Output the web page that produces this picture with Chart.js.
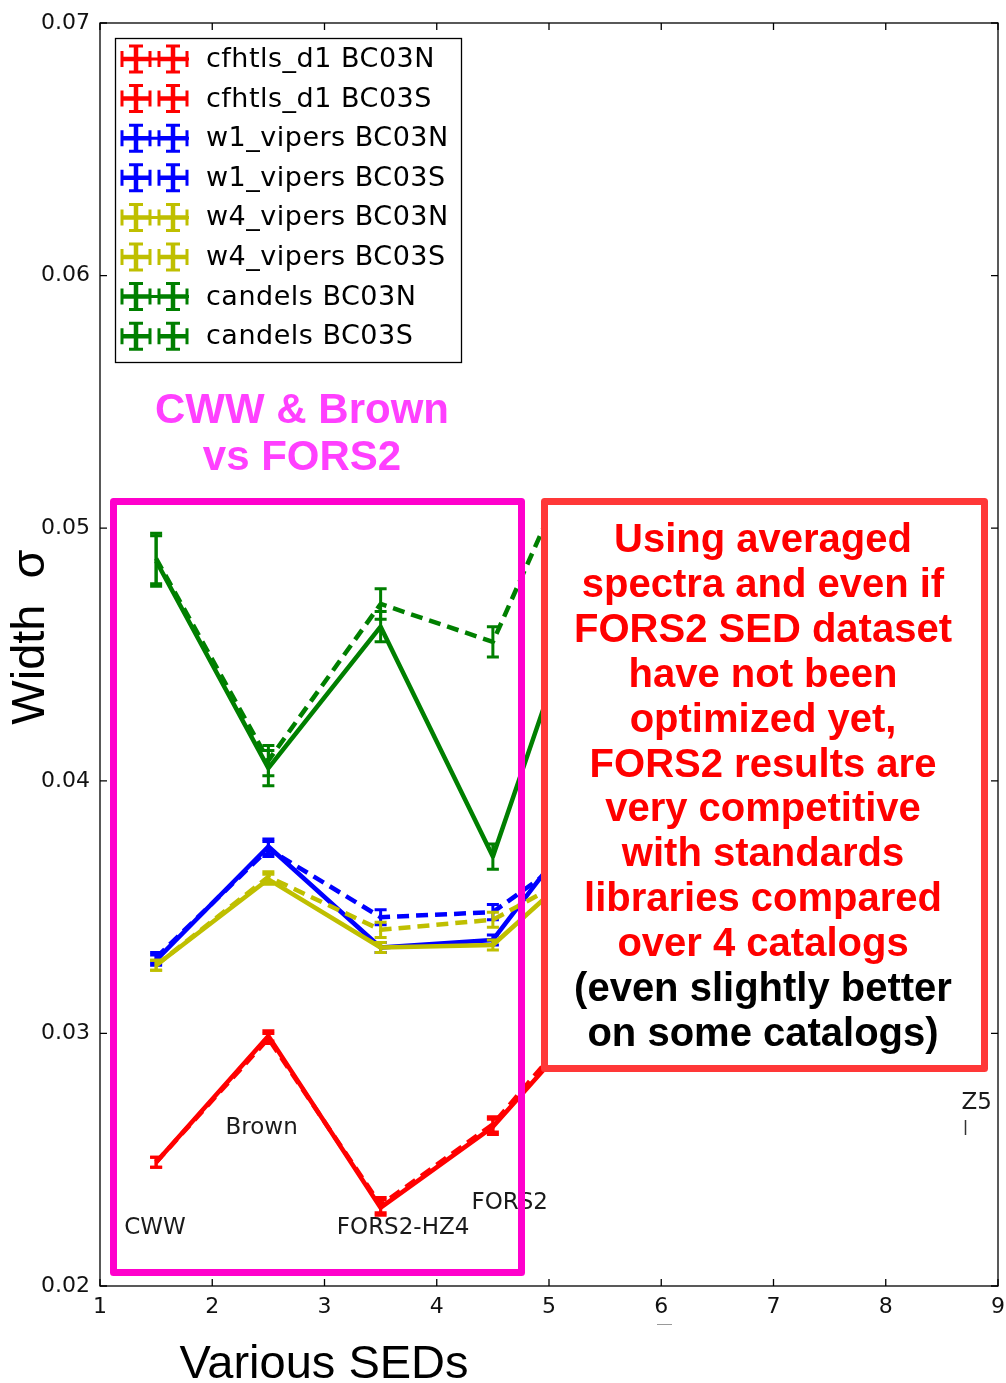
<!DOCTYPE html>
<html>
<head>
<meta charset="utf-8">
<script src="https://cdn.jsdelivr.net/npm/chart.js@4.4.1/dist/chart.umd.min.js"></script>
<style>
  html, body { margin: 0; padding: 0; background: #fff; }
  canvas { display: block; }
</style>
</head>
<body>
<canvas id="c" width="1006" height="1383"></canvas>
<script>
// SED index of each template family (x axis)
const sedPositions = [1.5, 2.5, 3.5, 4.5, 5.0];
const sedNames = ['CWW', 'Brown', 'FORS2-HZ4', 'FORS2', 'Z5'];
const xTickValues = [1, 2, 3, 4, 5, 6, 7, 8, 9];
const yTickValues = [0.02, 0.03, 0.04, 0.05, 0.06, 0.07];

// Width sigma per catalog / BC03 variant
const seriesLabels = [
  'cfhtls_d1 BC03N', 'cfhtls_d1 BC03S',
  'w1_vipers BC03N', 'w1_vipers BC03S',
  'w4_vipers BC03N', 'w4_vipers BC03S',
  'candels BC03N', 'candels BC03S'
];
const cfhtlsN  = [0.0249, 0.0299, 0.0231, 0.0263, 0.0288];
const cfhtlsS  = [0.0249, 0.0298, 0.0232, 0.0264, 0.0290];
const w1N      = [0.0329, 0.0374, 0.0334, 0.0337, 0.0366];
const w1S      = [0.0330, 0.0373, 0.0346, 0.0348, 0.0364];
const w4N      = [0.0327, 0.0361, 0.0334, 0.0335, 0.0355];
const w4S      = [0.0327, 0.0362, 0.0341, 0.0345, 0.0357];
const candelsN = [0.0487, 0.0405, 0.0461, 0.0370, 0.0435];
const candelsS = [0.0488, 0.0408, 0.0470, 0.0455, 0.0505];

// Error on sigma
const cfhtlsNErr  = [0.0002, 0.0002, 0.0003, 0.0003, 0.0002];
const cfhtlsSErr  = [0.0002, 0.0002, 0.0003, 0.0003, 0.0002];
const w1NErr      = [0.0002, 0.0003, 0.0002, 0.0002, 0.0002];
const w1SErr      = [0.0002, 0.0003, 0.0003, 0.0003, 0.0002];
const w4NErr      = [0.0002, 0.0002, 0.0002, 0.0002, 0.0002];
const w4SErr      = [0.0002, 0.0002, 0.0003, 0.0003, 0.0002];
const candelsNErr = [0.0010, 0.0007, 0.0006, 0.0005, 0.0005];
const candelsSErr = [0.0010, 0.0006, 0.0006, 0.0006, 0.0002];

const seriesValues = [cfhtlsN, cfhtlsS, w1N, w1S, w4N, w4S, candelsN, candelsS];
const seriesErrors = [cfhtlsNErr, cfhtlsSErr, w1NErr, w1SErr, w4NErr, w4SErr, candelsNErr, candelsSErr];

// Text panels
const leftNote = ['CWW & Brown', 'vs FORS2'];
const rightNoteRed = ['Using averaged', 'spectra and even if', 'FORS2 SED dataset',
  'have not been', 'optimized yet,', 'FORS2 results are', 'very competitive',
  'with standards', 'libraries compared', 'over 4 catalogs'];
const rightNoteBlack = ['(even slightly better', 'on some catalogs)'];

// ---- styling ----
const RED = '#ff0000', BLUE = '#0000ff', YELLOW = '#bfbf00', GREEN = '#007f00';
const seriesColors = [RED, RED, BLUE, BLUE, YELLOW, YELLOW, GREEN, GREEN];
const DASH = [12, 7];

// label anchor points (data units) for the SED family names
const sedLabelAnchors = [
  { x: 1.49, y: 0.02230 },
  { x: 2.44, y: 0.02625 },
  { x: 3.70, y: 0.02230 },
  { x: 4.65, y: 0.02329 },
  { x: 8.81, y: 0.02724 }
];

const datasets = seriesLabels.map((label, i) => ({
  label,
  data: sedPositions.map((x, k) => ({ x, y: seriesValues[i][k] })),
  errors: seriesErrors[i],
  borderColor: seriesColors[i],
  backgroundColor: seriesColors[i],
  borderWidth: 4.5,
  borderDash: i % 2 === 1 ? DASH : [],
  borderJoinStyle: 'round',
  pointRadius: 0,
  fill: false,
  tension: 0,
  order: seriesLabels.length - i
}));

const figurePlugin = {
  id: 'figure',
  beforeDraw(chart) {
    const ctx = chart.ctx;
    ctx.save();
    ctx.fillStyle = '#fff';
    ctx.fillRect(0, 0, chart.width, chart.height);
    ctx.restore();
  },
  afterDatasetDraw(chart, args) {
    // vertical error bars with caps
    const ds = chart.data.datasets[args.index];
    const ys = chart.scales.y;
    const ctx = chart.ctx;
    const a = chart.chartArea;
    ctx.save();
    ctx.beginPath();
    ctx.rect(a.left, a.top, a.right - a.left, a.bottom - a.top);
    ctx.clip();
    ctx.strokeStyle = ds.borderColor;
    ctx.lineWidth = 3;
    ctx.setLineDash([]);
    args.meta.data.forEach((pt, k) => {
      const v = ds.data[k].y, e = ds.errors[k];
      const y1 = ys.getPixelForValue(v - e), y2 = ys.getPixelForValue(v + e);
      ctx.beginPath();
      ctx.moveTo(pt.x, y1); ctx.lineTo(pt.x, y2);
      ctx.moveTo(pt.x - 6, y1); ctx.lineTo(pt.x + 6, y1);
      ctx.moveTo(pt.x - 6, y2); ctx.lineTo(pt.x + 6, y2);
      ctx.stroke();
    });
    ctx.restore();
  },
  afterDraw(chart) {
    const ctx = chart.ctx;
    const { left, right, top, bottom } = chart.chartArea;
    const xs = chart.scales.x, ys = chart.scales.y;
    ctx.save();

    // frame and inward ticks
    ctx.strokeStyle = '#000';
    ctx.lineWidth = 1.3;
    ctx.strokeRect(left, top, right - left, bottom - top);
    ctx.beginPath();
    yTickValues.forEach(v => {
      const y = ys.getPixelForValue(v);
      ctx.moveTo(left, y); ctx.lineTo(left + 7, y);
      ctx.moveTo(right, y); ctx.lineTo(right - 7, y);
    });
    xTickValues.forEach(v => {
      const x = xs.getPixelForValue(v);
      ctx.moveTo(x, bottom); ctx.lineTo(x, bottom - 7);
      ctx.moveTo(x, top); ctx.lineTo(x, top + 7);
    });
    ctx.stroke();

    // SED family names
    ctx.fillStyle = '#1a1a1a';
    ctx.font = '23px "DejaVu Sans"';
    ctx.textAlign = 'center';
    ctx.textBaseline = 'middle';
    sedNames.forEach((name, i) => {
      const p = sedLabelAnchors[i];
      ctx.fillText(name, xs.getPixelForValue(p.x), ys.getPixelForValue(p.y));
    });
    // small leftover marks near the right edge and under tick 6
    ctx.strokeStyle = '#333';
    ctx.lineWidth = 1.5;
    ctx.beginPath();
    ctx.moveTo(965.5, 1120); ctx.lineTo(965.5, 1135);
    ctx.stroke();
    ctx.strokeStyle = '#999';
    ctx.lineWidth = 1;
    ctx.beginPath();
    ctx.moveTo(657, 1324.5); ctx.lineTo(672, 1324.5);
    ctx.stroke();

    // axis titles
    ctx.fillStyle = '#000';
    ctx.font = '47px "Liberation Sans"';
    ctx.textAlign = 'center';
    ctx.textBaseline = 'alphabetic';
    ctx.fillText('Various SEDs', 324, 1378);
    ctx.save();
    ctx.translate(44, 637);
    ctx.rotate(-Math.PI / 2);
    ctx.fillText('Width  σ', 0, 0);
    ctx.restore();

    // legend
    const lgX = 115.5, lgY = 38.5, lgW = 346, lgH = 324;
    ctx.fillStyle = '#fff';
    ctx.fillRect(lgX, lgY, lgW, lgH);
    ctx.strokeStyle = '#000';
    ctx.lineWidth = 1.3;
    ctx.strokeRect(lgX, lgY, lgW, lgH);
    chart.data.datasets.forEach((ds, i) => {
      const cy = 59 + i * 39.6;
      ctx.strokeStyle = ds.borderColor;
      // connecting line
      ctx.lineWidth = 3;
      ctx.setLineDash(i % 2 === 1 ? [28, 9] : []);
      ctx.beginPath();
      ctx.moveTo(122, cy); ctx.lineTo(189, cy);
      ctx.stroke();
      ctx.setLineDash([]);
      [136, 173].forEach(cx => {
        ctx.lineWidth = 4.5;
        ctx.beginPath();
        ctx.moveTo(cx, cy - 13); ctx.lineTo(cx, cy + 13);
        ctx.moveTo(cx - 14, cy); ctx.lineTo(cx + 14, cy);
        ctx.stroke();
        ctx.lineWidth = 3;
        ctx.beginPath();
        ctx.moveTo(cx - 7, cy - 13); ctx.lineTo(cx + 7, cy - 13);
        ctx.moveTo(cx - 7, cy + 13); ctx.lineTo(cx + 7, cy + 13);
        ctx.moveTo(cx - 14, cy - 8); ctx.lineTo(cx - 14, cy + 8);
        ctx.moveTo(cx + 14, cy - 8); ctx.lineTo(cx + 14, cy + 8);
        ctx.stroke();
      });
      ctx.fillStyle = '#000';
      ctx.font = '27px "DejaVu Sans"';
      ctx.letterSpacing = '0.5px';
      ctx.textAlign = 'left';
      ctx.textBaseline = 'middle';
      ctx.fillText(ds.label, 206, cy + 1);
      ctx.letterSpacing = '0px';
    });

    // left panel heading
    ctx.fillStyle = '#ff40ff';
    ctx.font = 'bold 42px "Liberation Sans"';
    ctx.textAlign = 'center';
    ctx.textBaseline = 'alphabetic';
    ctx.fillText(leftNote[0], 302, 423);
    ctx.fillText(leftNote[1], 302, 470);

    // magenta frame around the CWW / Brown / FORS2 block
    ctx.strokeStyle = '#ff00cc';
    ctx.lineWidth = 7;
    ctx.lineJoin = 'round';
    ctx.strokeRect(113.5, 501.5, 408, 771);

    // red note box
    ctx.fillStyle = '#fff';
    ctx.fillRect(544.5, 501.5, 440, 567);
    ctx.strokeStyle = '#ff3838';
    ctx.lineWidth = 7;
    ctx.strokeRect(544.5, 501.5, 440, 567);
    ctx.font = 'bold 40px "Liberation Sans"';
    ctx.textAlign = 'center';
    ctx.textBaseline = 'alphabetic';
    const lines = rightNoteRed.concat(rightNoteBlack);
    lines.forEach((t, i) => {
      ctx.fillStyle = i < rightNoteRed.length ? '#ff0000' : '#000';
      ctx.fillText(t, 763, 552 + i * 44.9);
    });

    ctx.restore();
  }
};

function build() {
  new Chart(document.getElementById('c'), {
    type: 'line',
    data: { datasets },
    options: {
      responsive: false,
      animation: false,
      devicePixelRatio: 1,
      layout: { padding: { left: 0, top: 23, right: 8, bottom: 0 } },
      plugins: { legend: { display: false }, tooltip: { enabled: false } },
      scales: {
        x: {
          type: 'linear', min: 1, max: 9,
          afterBuildTicks: s => { s.ticks = xTickValues.map(v => ({ value: v })); },
          afterFit: s => { s.height = 97; s.paddingLeft = 0; s.paddingRight = 0; },
          grid: { display: false, drawTicks: false },
          border: { display: false },
          ticks: { font: { family: 'DejaVu Sans', size: 22 }, color: '#111', padding: 8,
                   maxRotation: 0, autoSkip: false, callback: v => String(v) }
        },
        y: {
          type: 'linear', min: 0.02, max: 0.07,
          afterBuildTicks: s => { s.ticks = yTickValues.map(v => ({ value: v })); },
          afterFit: s => { s.width = 100; s.paddingTop = 0; s.paddingBottom = 0; },
          grid: { display: false, drawTicks: false },
          border: { display: false },
          ticks: { font: { family: 'DejaVu Sans', size: 22 }, color: '#111', padding: 10,
                   autoSkip: false, callback: v => Number(v).toFixed(2) }
        }
      }
    },
    plugins: [figurePlugin]
  });
}

const fontLoads = [
  '22px "DejaVu Sans"', '27px "DejaVu Sans"', '47px "Liberation Sans"', 'bold 40px "Liberation Sans"'
].map(f => document.fonts.load(f));
Promise.all(fontLoads).then(build, build);
</script>
</body>
</html>
